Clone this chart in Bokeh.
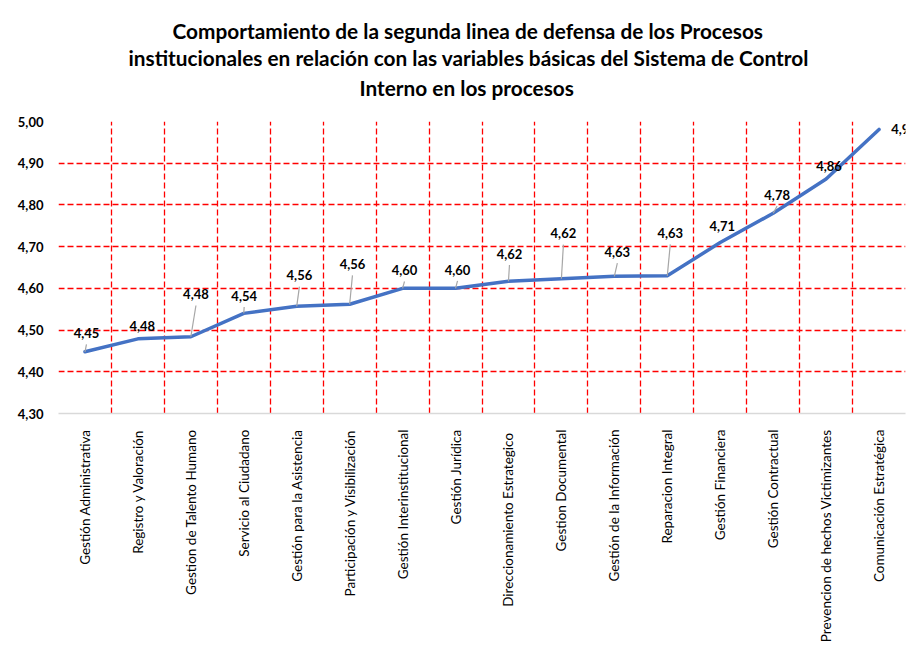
import math
from bokeh.plotting import figure
from bokeh.models import (ColumnDataSource, FixedTicker, CustomJSTickFormatter,
                          LabelSet, Range1d, Title)
from bokeh.core.properties import value
from bokeh.embed import file_html
from bokeh.resources import INLINE

# ---------------- data ----------------
categories = [
    "Gestión Administrativa",
    "Registro y Valoración",
    "Gestion de Talento Humano",
    "Servicio al Ciudadano",
    "Gestión para la Asistencia",
    "Participación y Visibilización",
    "Gestión Interinstitucional",
    "Gestión Jurídica",
    "Direccionamiento  Estrategico",
    "Gestion Documental",
    "Gestión de la Información",
    "Reparacion Integral",
    "Gestión Financiera",
    "Gestión Contractual",
    "Prevencion de hechos Victimizantes",
    "Comunicación Estratégica",
]
scores = [4.448, 4.479, 4.484, 4.540, 4.557, 4.562, 4.600, 4.600,
          4.617, 4.623, 4.629, 4.630, 4.710, 4.780, 4.862, 4.981]
y_ticks = [4.30, 4.40, 4.50, 4.60, 4.70, 4.80, 4.90, 5.00]
title_lines = [
    "Comportamiento de la segunda linea de defensa de los Procesos",
    "institucionales en relación con las variables básicas del Sistema de Control",
    "Interno en los procesos",
]

# label placement (pixels, relative to the point; +dy = up) and leader flags
label_dx = [1.5, 4.3, 5.1, 0.4, 2.7, 2.8, 1.9, 2.0, 1.0, 2.0, 3.0, 3.0, 2.0, 4.0, 3.0, 25.0]
label_dy = [18.4, 12.6, 42.8, 17.5, 31.0, 40.3, 18.0, 18.7, 27.5, 45.7, 24.4, 43.0, 16.3, 18.3, 13.0, 0.0]
leader = [1, 0, 1, 1, 1, 1, 1, 1, 1, 1, 1, 1, 0, 1, 0, 0]

# ---------------- layout ----------------
W, H = 909, 645
B_LEFT, B_RIGHT, B_TOP = 58, 4, 121
FRAME_H = 297
B_BOTTOM = H - B_TOP - FRAME_H
FRAME_W = W - B_LEFT - B_RIGHT
Y0, Y1 = y_ticks[0], y_ticks[-1]
n = len(categories)
px_cat = FRAME_W / n
px_val = FRAME_H / (Y1 - Y0)

xs = [i + 0.5 for i in range(n)]
labels = [f"{v:.2f}".replace(".", ",") for v in scores]
src = ColumnDataSource(dict(x=xs, y=scores, label=labels, dx=label_dx, dy=label_dy))

lx0, ly0, lx1, ly1 = [], [], [], []
for i in range(n):
    if leader[i]:
        lx0.append(xs[i] + label_dx[i] / px_cat)
        ly0.append(scores[i] + (label_dy[i] - 11) / px_val)
        lx1.append(xs[i])
        ly1.append(scores[i])
lsrc = ColumnDataSource(dict(x0=lx0, y0=ly0, x1=lx1, y1=ly1))

p = figure(width=W, height=H, output_backend="svg", toolbar_location=None,
           x_range=Range1d(0, n), y_range=Range1d(Y0, Y1),
           min_border_left=B_LEFT, min_border_right=B_RIGHT,
           min_border_top=B_TOP, min_border_bottom=B_BOTTOM)
p.title = None
p.outline_line_color = None
p.background_fill_color = "white"
p.border_fill_color = "white"

# spacer between the title block and the plot area
p.add_layout(Title(text=" ", text_font_size="1px", standoff=15), "above")
# title: one Title per line (last added sits on top); left offsets centre
# each line over the chart area as in the original
title_offsets = [114, 70, 301]
title_standoffs = [0, 0, 7]
for line, off, so in reversed(list(zip(title_lines, title_offsets, title_standoffs))):
    p.add_layout(Title(text=line, align="left", offset=off, text_font="Lato",
                       text_font_size="20.8px", text_font_style="bold",
                       text_color="black", standoff=so), "above")

# grids
p.xgrid.ticker = FixedTicker(ticks=list(range(n + 1)))
p.ygrid.ticker = FixedTicker(ticks=y_ticks)
for g in (p.xgrid, p.ygrid):
    g.grid_line_color = "#ff0000"
    g.grid_line_dash = "6 3"
    g.grid_line_width = 1.3

# y axis
p.yaxis.ticker = FixedTicker(ticks=y_ticks)
p.yaxis.formatter = CustomJSTickFormatter(code="return tick.toFixed(2).replace('.', ',');")
p.yaxis.axis_line_color = None
p.yaxis.major_tick_line_color = None
p.yaxis.minor_tick_line_color = None
p.yaxis.major_label_standoff = 9
p.yaxis.major_label_text_font = "Lato"
p.yaxis.major_label_text_font_size = "13px"
p.yaxis.major_label_text_font_style = "bold"
p.yaxis.major_label_text_color = "black"

# x axis
p.xaxis.ticker = FixedTicker(ticks=xs)
p.xaxis.formatter = CustomJSTickFormatter(args=dict(labels=categories),
                                          code="return labels[Math.floor(tick)];")
p.xaxis.axis_line_color = "#d9d9d9"
p.xaxis.axis_line_width = 1.5
p.xaxis.major_tick_line_color = None
p.xaxis.minor_tick_line_color = None
p.xaxis.major_label_orientation = math.pi / 2
p.xaxis.major_label_standoff = 10
p.xaxis.major_label_text_font = "Lato"
p.xaxis.major_label_text_font_size = "13.5px"
p.xaxis.major_label_text_color = "black"

# series
p.line(x="x", y="y", source=src, line_color="#4472C4", line_width=3.5,
       line_join="round", line_cap="round")
p.segment(x0="x0", y0="y0", x1="x1", y1="y1", source=lsrc,
          line_color="#a6a6a6", line_width=1.2)

p.add_layout(LabelSet(x="x", y="y", text="label", x_offset="dx", y_offset="dy",
                      source=src, text_align="center", text_baseline="middle",
                      text_font=value("Lato"), text_font_size="13px",
                      text_font_style="bold", text_color="black"))

open("out.html", "w").write(file_html(p, INLINE))
